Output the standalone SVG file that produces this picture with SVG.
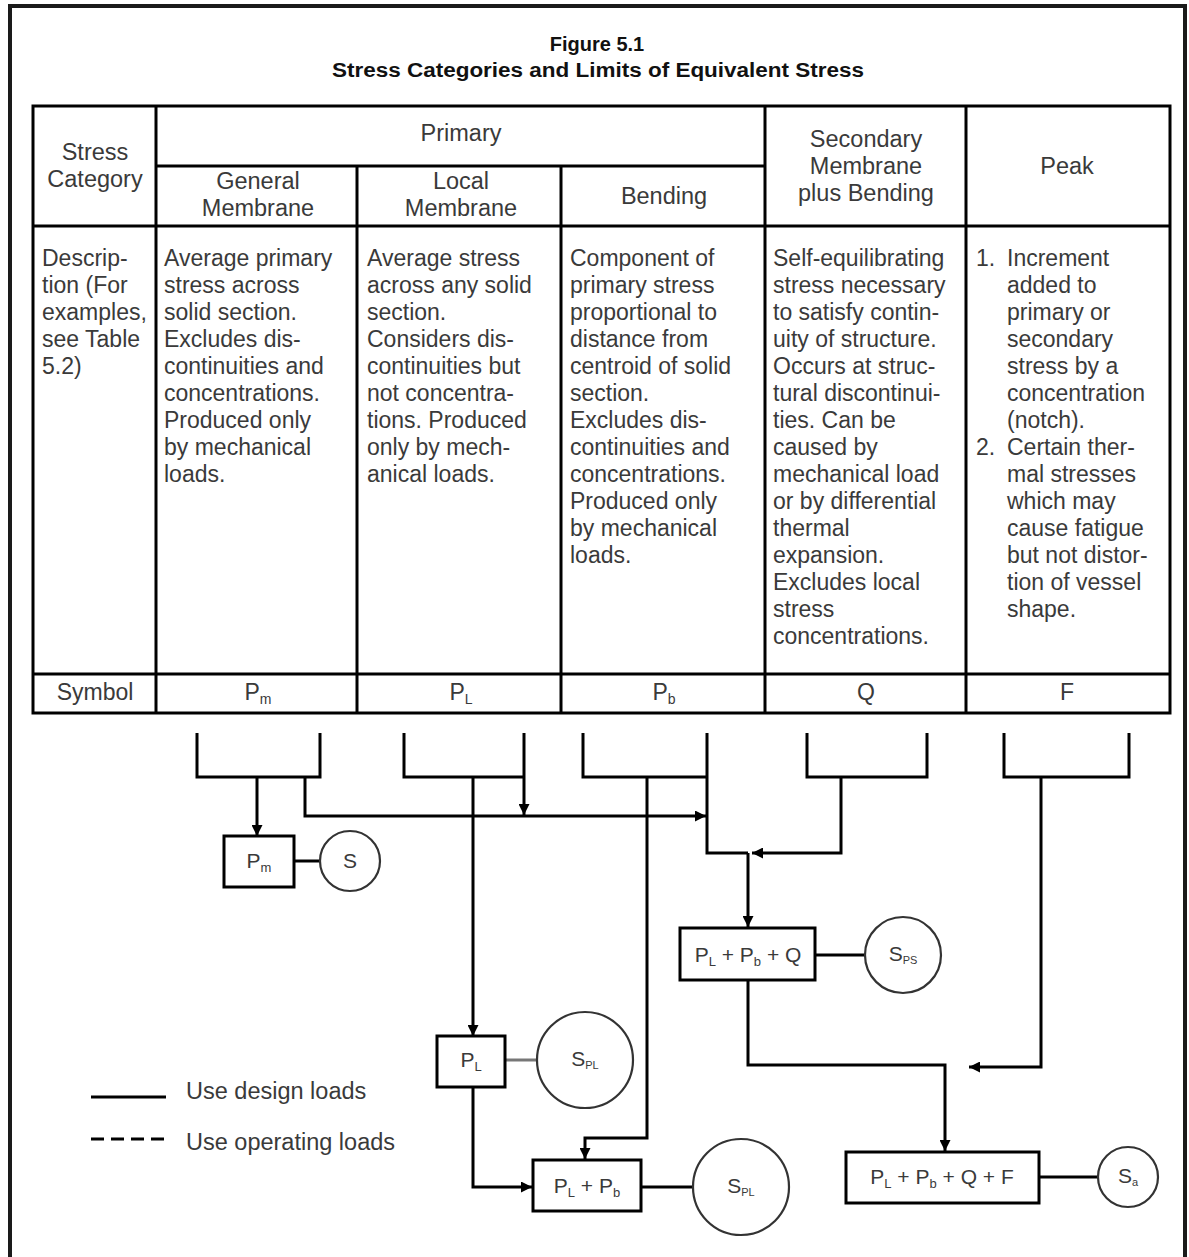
<svg xmlns="http://www.w3.org/2000/svg" width="1189" height="1257" viewBox="0 0 1189 1257">
<style>
text{font-family:"Liberation Sans",Arial,sans-serif;fill:#3a3a3a}
.title{font-weight:bold;fill:#111;font-size:20px}
.hd{font-size:23.5px;text-anchor:middle}
.ds{font-size:23px}
.sym{font-size:23px;text-anchor:middle}
.lbl{font-size:21px;text-anchor:middle}
.lg{font-size:23.5px}
.tl{fill:none;stroke:#000;stroke-width:3}
.cn{fill:none;stroke:#000;stroke-width:3}
.box{fill:#fff;stroke:#000;stroke-width:3}
.cir{fill:#fff;stroke:#333;stroke-width:2.2}
</style>
<defs>
<marker id="ar" viewBox="0 0 10 10" refX="10" refY="5" markerWidth="11" markerHeight="11" markerUnits="userSpaceOnUse" orient="auto">
<path d="M0,0 L10,5 L0,10 z" fill="#000"/>
</marker>
</defs>
<rect width="1189" height="1257" fill="#fff"/>
<path d="M10,1257 V6 H1185 V1257" fill="none" stroke="#1a1a1a" stroke-width="4"/>

<g id="title">
<text class="title" x="597" y="51" text-anchor="middle">Figure 5.1</text>
<text class="title" x="598" y="77" text-anchor="middle" textLength="532" lengthAdjust="spacingAndGlyphs">Stress Categories and Limits of Equivalent Stress</text>
</g>

<g id="table">
<rect class="tl" x="33" y="106" width="1137" height="607"/>
<path class="tl" d="M156,166 H765 M33,226 H1170 M33,674 H1170 M156,106 V713 M357,166 V713 M561,166 V713 M765,106 V713 M966,106 V713"/>
<text class="hd" x="95" y="160">Stress</text>
<text class="hd" x="95" y="187">Category</text>
<text class="hd" x="461" y="141">Primary</text>
<text class="hd" x="258" y="189">General</text>
<text class="hd" x="258" y="216">Membrane</text>
<text class="hd" x="461" y="189">Local</text>
<text class="hd" x="461" y="216">Membrane</text>
<text class="hd" x="664" y="204">Bending</text>
<text class="hd" x="866" y="147">Secondary</text>
<text class="hd" x="866" y="174">Membrane</text>
<text class="hd" x="866" y="201">plus Bending</text>
<text class="hd" x="1067" y="174">Peak</text>

<text class="ds" x="42" y="266">Descrip-<tspan x="42" dy="27">tion (For</tspan><tspan x="42" dy="27">examples,</tspan><tspan x="42" dy="27">see Table</tspan><tspan x="42" dy="27">5.2)</tspan></text>
<text class="ds" x="164" y="266">Average primary<tspan x="164" dy="27">stress across</tspan><tspan x="164" dy="27">solid section.</tspan><tspan x="164" dy="27">Excludes dis-</tspan><tspan x="164" dy="27">continuities and</tspan><tspan x="164" dy="27">concentrations.</tspan><tspan x="164" dy="27">Produced only</tspan><tspan x="164" dy="27">by mechanical</tspan><tspan x="164" dy="27">loads.</tspan></text>
<text class="ds" x="367" y="266">Average stress<tspan x="367" dy="27">across any solid</tspan><tspan x="367" dy="27">section.</tspan><tspan x="367" dy="27">Considers dis-</tspan><tspan x="367" dy="27">continuities but</tspan><tspan x="367" dy="27">not concentra-</tspan><tspan x="367" dy="27">tions. Produced</tspan><tspan x="367" dy="27">only by mech-</tspan><tspan x="367" dy="27">anical loads.</tspan></text>
<text class="ds" x="570" y="266">Component of<tspan x="570" dy="27">primary stress</tspan><tspan x="570" dy="27">proportional to</tspan><tspan x="570" dy="27">distance from</tspan><tspan x="570" dy="27">centroid of solid</tspan><tspan x="570" dy="27">section.</tspan><tspan x="570" dy="27">Excludes dis-</tspan><tspan x="570" dy="27">continuities and</tspan><tspan x="570" dy="27">concentrations.</tspan><tspan x="570" dy="27">Produced only</tspan><tspan x="570" dy="27">by mechanical</tspan><tspan x="570" dy="27">loads.</tspan></text>
<text class="ds" x="773" y="266">Self-equilibrating<tspan x="773" dy="27">stress necessary</tspan><tspan x="773" dy="27">to satisfy contin-</tspan><tspan x="773" dy="27">uity of structure.</tspan><tspan x="773" dy="27">Occurs at struc-</tspan><tspan x="773" dy="27">tural discontinui-</tspan><tspan x="773" dy="27">ties. Can be</tspan><tspan x="773" dy="27">caused by</tspan><tspan x="773" dy="27">mechanical load</tspan><tspan x="773" dy="27">or by differential</tspan><tspan x="773" dy="27">thermal</tspan><tspan x="773" dy="27">expansion.</tspan><tspan x="773" dy="27">Excludes local</tspan><tspan x="773" dy="27">stress</tspan><tspan x="773" dy="27">concentrations.</tspan></text>
<text class="ds" x="976" y="266">1.</text>
<text class="ds" x="1007" y="266">Increment<tspan x="1007" dy="27">added to</tspan><tspan x="1007" dy="27">primary or</tspan><tspan x="1007" dy="27">secondary</tspan><tspan x="1007" dy="27">stress by a</tspan><tspan x="1007" dy="27">concentration</tspan><tspan x="1007" dy="27">(notch).</tspan></text>
<text class="ds" x="976" y="455">2.</text>
<text class="ds" x="1007" y="455">Certain ther-<tspan x="1007" dy="27">mal stresses</tspan><tspan x="1007" dy="27">which may</tspan><tspan x="1007" dy="27">cause fatigue</tspan><tspan x="1007" dy="27">but not distor-</tspan><tspan x="1007" dy="27">tion of vessel</tspan><tspan x="1007" dy="27">shape.</tspan></text>

<text class="sym" x="95" y="700">Symbol</text>
<text class="sym" x="258" y="700">P<tspan font-size="14" dy="4">m</tspan></text>
<text class="sym" x="461" y="700">P<tspan font-size="14" dy="4">L</tspan></text>
<text class="sym" x="664" y="700">P<tspan font-size="14" dy="4">b</tspan></text>
<text class="sym" x="866" y="700">Q</text>
<text class="sym" x="1067" y="700">F</text>
</g>

<g id="connectors">
<path class="cn" d="M197,733 V777 H320 V733"/>
<path class="cn" d="M257,777 V836" marker-end="url(#ar)"/>
<path class="cn" d="M305,777 V816 H706" marker-end="url(#ar)"/>
<path class="cn" d="M404,733 V777 H524"/>
<path class="cn" d="M524,733 V815" marker-end="url(#ar)"/>
<path class="cn" d="M473,777 V1036" marker-end="url(#ar)"/>
<path class="cn" d="M583,733 V777 H707"/>
<path class="cn" d="M707,733 V853 H748"/>
<path class="cn" d="M647,777 V1138 H585 V1159" marker-end="url(#ar)"/>
<path class="cn" d="M807,733 V777 H927 V733"/>
<path class="cn" d="M841,777 V853 H752" marker-end="url(#ar)"/>
<path class="cn" d="M748,853 V927" marker-end="url(#ar)"/>
<path class="cn" d="M748,980 V1065 H945 V1151" marker-end="url(#ar)"/>
<path class="cn" d="M1004,733 V777 H1129 V733"/>
<path class="cn" d="M1041,777 V1067 H969" marker-end="url(#ar)"/>
<path class="cn" d="M473,1087 V1187 H532" marker-end="url(#ar)"/>
<path class="cn" d="M294,861 H320"/>
<path class="cn" d="M815,955 H865"/>
<path fill="none" stroke="#777" stroke-width="3" d="M505,1060 H537"/>
<path class="cn" d="M641,1187 H693"/>
<path class="cn" d="M1039,1177 H1098"/>
</g>

<g id="node-pm">
<rect class="box" x="224" y="836" width="70" height="51"/>
<text class="lbl" x="259" y="868">P<tspan font-size="13" dy="4">m</tspan></text>
</g>
<g id="node-s">
<circle class="cir" cx="350" cy="861" r="30"/>
<text class="lbl" x="350" y="868" font-size="18">S</text>
</g>
<g id="node-plpbq">
<rect class="box" x="680" y="928" width="135" height="52"/>
<text class="lbl" x="748" y="962">P<tspan font-size="13" dy="4">L</tspan><tspan dy="-4"> + P</tspan><tspan font-size="13" dy="4">b</tspan><tspan dy="-4"> + Q</tspan></text>
</g>
<g id="node-sps">
<circle class="cir" cx="903" cy="955" r="38"/>
<text class="lbl" x="903" y="961" font-size="17">S<tspan font-size="11" dy="3">PS</tspan></text>
</g>
<g id="node-pl">
<rect class="box" x="437" y="1036" width="68" height="51"/>
<text class="lbl" x="471" y="1067">P<tspan font-size="13" dy="4">L</tspan></text>
</g>
<g id="node-spl1">
<circle class="cir" cx="585" cy="1060" r="48"/>
<text class="lbl" x="585" y="1066" font-size="17">S<tspan font-size="11" dy="3">PL</tspan></text>
</g>
<g id="node-plpb">
<rect class="box" x="533" y="1160" width="108" height="51"/>
<text class="lbl" x="587" y="1193">P<tspan font-size="13" dy="4">L</tspan><tspan dy="-4"> + P</tspan><tspan font-size="13" dy="4">b</tspan></text>
</g>
<g id="node-spl2">
<circle class="cir" cx="741" cy="1187" r="48"/>
<text class="lbl" x="741" y="1193" font-size="17">S<tspan font-size="11" dy="3">PL</tspan></text>
</g>
<g id="node-plpbqf">
<rect class="box" x="846" y="1152" width="193" height="51"/>
<text class="lbl" x="942" y="1184">P<tspan font-size="13" dy="4">L</tspan><tspan dy="-4"> + P</tspan><tspan font-size="13" dy="4">b</tspan><tspan dy="-4"> + Q + F</tspan></text>
</g>
<g id="node-sa">
<circle class="cir" cx="1128" cy="1177" r="30"/>
<text class="lbl" x="1128" y="1183" font-size="17">S<tspan font-size="11" dy="3">a</tspan></text>
</g>

<g id="legend">
<path d="M91,1097 H166" stroke="#000" stroke-width="3"/>
<path d="M91,1139 H166" stroke="#000" stroke-width="3" stroke-dasharray="13,7"/>
<text class="lg" x="186" y="1099">Use design loads</text>
<text class="lg" x="186" y="1150">Use operating loads</text>
</g>
</svg>
